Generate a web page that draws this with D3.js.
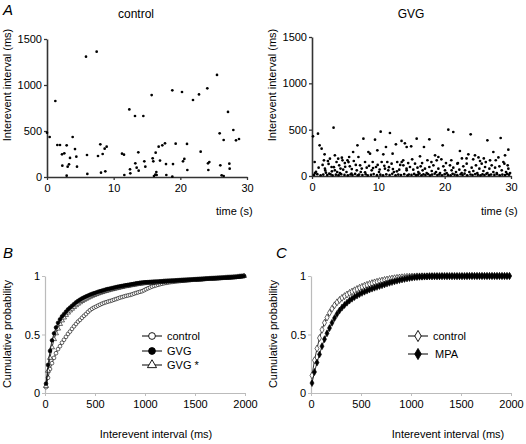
<!DOCTYPE html>
<html><head><meta charset="utf-8">
<script src="https://cdn.jsdelivr.net/npm/d3@7/dist/d3.min.js"></script>
<style>
body{margin:0;background:#fff}
text{font-family:"Liberation Sans",Arial,sans-serif;fill:#000}
</style>
</head><body>
<svg id="c" width="526" height="444"></svg>
<script>
// ---------- Panel A data (scatter: time s, interevent interval ms) ----------
const ctrlTime = [0,0.4,1.25,1.55,1.95,2.25,2.6,2.3,2.95,2.95,3.1,3.3,3.45,3.85,4.2,4.4,4.5,5.85,6.0,6.05,7.45,7.65,8.0,8.1,8.35,8.65,8.75,8.95,11.25,11.55,11.6,12.35,12.45,12.5,13.2,13.25,13.45,13.7,13.75,14.45,14.6,14.75,15.7,15.85,15.95,16.05,16.25,16.3,16.4,16.45,16.75,16.95,17.3,17.7,17.85,17.9,18.8,18.9,18.8,19.3,20.25,20.4,20.6,21.0,21.05,21.9,22.8,23.05,24.05,24.15,24.2,24.35,25.5,25.9,26.0,26.2,26.5,26.5,27.15,27.35,27.4,27.95,28.35,28.8];
const ctrlInterval = [482,435,826,348,348,246,257,123,344,14,112,138,207,435,304,221,112,1308,239,33,1362,228,355,47,250,308,62,330,254,243,22,735,83,40,663,149,101,268,69,663,170,112,891,203,170,11,25,264,54,22,330,178,344,366,141,22,942,141,4,362,924,170,196,359,76,837,898,275,964,149,76,163,1109,475,127,18,402,11,707,145,91,511,399,413];

const gvgTime = [0.15,0.4,0.45,0.9,1.15,1.45,1.9,1.8,1.95,2.1,2.4,2.6,2.7,2.95,3.25,3.45,3.45,3.7,3.8,3.95,4.1,4.2,4.5,4.6,4.7,4.95,5.2,5.35,5.6,5.7,5.95,6.2,6.3,6.75,6.85,7.0,7.25,7.35,7.75,8.0,8.25,8.5,8.75,9.0,9.15,9.5,9.65,9.85,10.1,10.35,10.5,10.75,11.0,11.15,11.35,11.5,11.75,12.0,12.15,12.35,12.65,12.85,13.15,13.5,13.75,14.0,14.25,14.27,14.95,15.53,15.78,16.28,16.88,17.69,18.55,18.8,19.05,19.7,20.55,21.3,22.3,23.57,23.92,24.57,25.33,26.44,26.84,27.34,28.44,29.1,29.6,29.0,29.5,28.85,
13.52,13.77,14.27,14.77,15.27,16.03,16.38,16.68,17.03,17.29,17.69,18.05,18.3,18.7,19.05,19.3,19.8,20.05,20.3,20.8,21.05,21.3,21.71,21.91,22.21,22.56,22.81,23.07,23.32,23.72,24.07,24.32,24.72,24.92,25.23,25.58,25.84,26.09,26.44,26.74,27.09,27.34,27.6,27.85,28.25,28.6,29.25,29.6,29.86,
0.3,0.8,1.3,1.7,2.3,2.8,3.1,3.6,4.0,4.4,4.9,5.4,5.8,6.1,6.5,6.9,7.1,7.6,8.1,8.4,8.9,9.3,9.8,10.3,10.7,11.2,11.7,12.1,12.6,13.0,13.4,13.9,14.4,14.6,15.0,15.4,15.7,16.0,16.2,16.5,16.8,17.1,17.5,17.8,18.1,18.5,18.9,19.2,19.6,20.0,20.5,20.9,21.2,21.5,21.9,22.4,22.7,23.0,23.4,23.9,24.2,24.6,25.0,25.4,25.7,26.0,26.3,26.7,27.0,27.5,27.9,28.3,28.7,29.1,29.4,29.7,
0.6,1.0,1.6,2.0,2.5,3.0,3.3,4.3,5.0,5.5,6.0,6.6,7.5,8.0,8.6,9.2,9.9,10.2,10.9,11.6,12.2,12.8,13.3,14.5,15.1,15.9,16.6,17.4,18.0,19.5,20.2,21.0,22.0,22.6,23.3,24.3,25.1,25.9,26.2,27.7,28.1];
const gvgInterval = [428,151,32,457,331,295,234,169,79,36,162,25,187,97,522,223,61,151,43,187,115,32,198,169,68,140,43,169,205,104,25,259,162,61,331,205,115,43,403,151,90,259,241,61,151,392,97,277,43,478,151,234,79,313,151,61,464,133,241,43,342,151,68,378,169,353,79,313,320,133,403,212,313,396,223,169,205,331,500,475,270,234,450,223,162,385,169,259,410,223,284,133,115,151,
151,115,61,97,68,43,104,61,79,32,97,54,115,43,79,32,104,61,32,115,61,90,43,133,68,32,104,61,133,43,90,54,115,32,79,133,54,97,32,79,115,43,90,32,104,61,43,79,32,
12,20,8,15,10,18,6,14,9,20,12,7,16,10,22,8,15,11,19,6,13,21,9,14,7,18,11,24,8,15,10,20,7,16,12,22,9,14,27,8,18,11,21,6,15,25,10,17,8,20,12,7,23,14,9,19,11,25,8,16,10,21,13,7,18,11,24,9,16,12,20,8,15,10,22,14,
45,90,120,60,130,50,95,80,100,150,75,120,80,40,110,85,120,70,110,95,75,50,120,140,180,90,140,170,150,180,140,170,140,190,190,180,200,190,150,170,200];

const scatterTicksY = [0,500,1000,1500];
const scatterTickLabelsY = ["0","500","1000","1500"];
const scatterTicksX = [0,10,20,30];

// ---------- Panel B data (cumulative probability, bins of 20 ms) ----------
const binsB = d3.range(10, 2000, 20);
const cdfCtrlB = [0.05,0.13,0.205,0.255,0.30,0.34,0.375,0.40,0.43,0.455,0.48,0.505,0.525,0.548,0.57,0.59,0.61,0.625,0.643,0.66,
0.675,0.693,0.708,0.72,0.73,0.738,0.747,0.755,0.763,0.77,0.776,0.781,0.786,0.791,0.797,0.803,0.809,0.815,0.82,0.825,
0.83,0.834,0.838,0.843,0.849,0.855,0.86,0.865,0.87,0.878,0.887,0.895,0.902,0.909,0.915,0.92,0.925,0.93,0.934,0.938,
0.941,0.944,0.947,0.949,0.951,0.953,0.955,0.957,0.959,0.961,0.962,0.964,0.965,0.967,0.968,0.969,0.971,0.972,0.973,0.975,
0.976,0.977,0.978,0.979,0.98,0.981,0.982,0.983,0.984,0.985,0.986,0.987,0.988,0.989,0.99,0.991,0.993,0.995,0.997,1.0];
const cdfGvgB = [0.08,0.24,0.36,0.45,0.51,0.56,0.6,0.63,0.655,0.675,0.695,0.715,0.73,0.745,0.76,0.775,0.787,0.798,0.808,0.817,
0.825,0.833,0.84,0.847,0.853,0.859,0.865,0.87,0.875,0.88,0.885,0.889,0.893,0.897,0.901,0.905,0.909,0.912,0.915,0.918,
0.921,0.924,0.927,0.93,0.933,0.936,0.939,0.942,0.944,0.946,0.947,0.948,0.949,0.95,0.951,0.952,0.953,0.954,0.955,0.956,
0.957,0.958,0.959,0.96,0.961,0.962,0.963,0.964,0.965,0.966,0.967,0.968,0.969,0.97,0.971,0.972,0.973,0.974,0.975,0.976,
0.977,0.978,0.979,0.98,0.981,0.982,0.983,0.984,0.985,0.986,0.987,0.988,0.989,0.99,0.991,0.992,0.994,0.996,0.998,1.0];
const cdfGvgStarB = [0.06,0.19,0.3,0.39,0.46,0.51,0.55,0.59,0.62,0.645,0.667,0.687,0.705,0.72,0.735,0.75,0.763,0.775,0.786,0.796,
0.805,0.814,0.822,0.83,0.837,0.844,0.85,0.856,0.862,0.867,0.872,0.877,0.882,0.886,0.89,0.894,0.898,0.902,0.906,0.91,
0.913,0.916,0.919,0.922,0.925,0.928,0.931,0.934,0.936,0.938,0.94,0.941,0.942,0.943,0.944,0.945,0.946,0.948,0.95,0.952,
0.953,0.954,0.955,0.956,0.957,0.958,0.959,0.96,0.961,0.962,0.963,0.964,0.965,0.966,0.967,0.968,0.969,0.97,0.971,0.972,
0.974,0.975,0.976,0.977,0.978,0.979,0.98,0.981,0.982,0.983,0.985,0.986,0.987,0.988,0.99,0.991,0.993,0.995,0.997,1.0];

// ---------- Panel C data (cumulative probability, bins of 25 ms) ----------
const binsC = d3.range(10, 2000, 25);
const cdfCtrlC = [0.15,0.28,0.38,0.47,0.54,0.60,0.645,0.685,0.72,0.75,0.775,0.795,0.813,0.828,0.842,0.855,0.867,0.878,0.889,0.899,
0.908,0.917,0.925,0.932,0.939,0.945,0.951,0.956,0.961,0.966,0.970,0.974,0.978,0.981,0.984,0.987,0.989,0.991,0.993,0.994,
0.995,0.996,0.997,0.997,0.998,0.998,0.998,0.999,0.999,0.999,0.999,0.999,0.999,0.999,0.999,0.999,0.999,0.999,0.999,0.999,
0.999,0.999,0.999,1.0,1.0,1.0,1.0,1.0,1.0,1.0,1.0,1.0,1.0,1.0,1.0,1.0,1.0,1.0,1.0,1.0];
const cdfMpaC = [0.085,0.18,0.26,0.33,0.40,0.46,0.51,0.555,0.6,0.64,0.675,0.705,0.73,0.752,0.772,0.79,0.806,0.82,0.833,0.845,
0.856,0.866,0.875,0.884,0.892,0.9,0.907,0.914,0.921,0.928,0.935,0.942,0.948,0.954,0.96,0.965,0.97,0.975,0.979,0.983,
0.986,0.989,0.991,0.993,0.994,0.995,0.996,0.997,0.997,0.998,0.998,0.998,0.999,0.999,0.999,0.999,0.999,0.999,0.999,0.999,
0.999,0.999,1.0,1.0,1.0,1.0,1.0,1.0,1.0,1.0,1.0,1.0,1.0,1.0,1.0,1.0,1.0,1.0,1.0,1.0];

const cdfTicksX = [0,500,1000,1500,2000];
const cdfTicksY = [0,0.5,1];
const cdfTickLabelsY = ["0","0.5","1"];

// ---------- drawing ----------
const svg = d3.select("#c");
const FS = 11;

function panelLetter(txt, x, y){
  svg.append("text").attr("x",x).attr("y",y).attr("font-size",15).attr("font-style","italic").text(txt);
}
function rotLabel(txt, x, y){
  svg.append("text").attr("transform",`translate(${x},${y}) rotate(-90)`).attr("text-anchor","middle")
    .attr("font-size",FS).text(txt);
}
function styleAxis(a, col, w){
  a.select(".domain").attr("stroke",col).attr("stroke-width",w);
  a.selectAll(".tick line").attr("stroke",col).attr("stroke-width",w*0.8);
  a.selectAll(".tick text").attr("font-size",FS).attr("font-family","Liberation Sans, Arial, sans-serif").attr("fill","#000");
}

function scatterPanel(o){
  const x = d3.scaleLinear().domain([0,30]).range([o.x0,o.x1]);
  const y = d3.scaleLinear().domain([0,1500]).range([o.y0,o.y1]);
  const g = svg.append("g");
  const ax = g.append("g").attr("transform",`translate(0,${o.y0})`)
    .call(d3.axisBottom(x).tickValues(scatterTicksX).tickFormat(d3.format("d")).tickSize(3).tickSizeOuter(0).tickPadding(4));
  const ay = g.append("g").attr("transform",`translate(${o.x0},0)`)
    .call(d3.axisLeft(y).tickValues(scatterTicksY).tickFormat((d,i)=>scatterTickLabelsY[i]).tickSize(3).tickSizeOuter(0).tickPadding(2));
  styleAxis(ax,"#333",1.6); styleAxis(ay,"#333",1.6);
  g.selectAll("circle.pt").data(o.t.map((t,i)=>[t,o.v[i]])).join("circle")
    .attr("cx",d=>x(d[0])).attr("cy",d=>y(d[1])).attr("r",1.35).attr("fill","#000");
  svg.append("text").attr("x",o.titleX).attr("y",18).attr("text-anchor","middle").attr("font-size",12).text(o.title);
  svg.append("text").attr("x",o.timeX).attr("y",215).attr("font-size",FS).text("time (s)");
  rotLabel("Interevent interval (ms)", o.ylabX, 85);
}

scatterPanel({x0:47,x1:247,y0:177,y1:39,t:ctrlTime,v:ctrlInterval,title:"control",titleX:136,timeX:216,ylabX:11});
scatterPanel({x0:312,x1:511,y0:176,y1:37,t:gvgTime,v:gvgInterval,title:"GVG",titleX:411,timeX:481,ylabX:276});

const symType = {circle:d3.symbolCircle, triangle:d3.symbolTriangle, diamond:d3.symbolDiamond};
const symSize = {circle:11, triangle:11, diamond:14};

function cdfPanel(o){
  const x = d3.scaleLinear().domain([0,2000]).range([o.x0,o.x1]);
  const y = d3.scaleLinear().domain([0,1]).range([393,276]);
  const g = svg.append("g");
  const ax = g.append("g").attr("transform","translate(0,393)")
    .call(d3.axisBottom(x).tickValues(cdfTicksX).tickFormat(d3.format("d")).tickSize(3).tickSizeOuter(0).tickPadding(4));
  const ay = g.append("g").attr("transform",`translate(${o.x0},0)`)
    .call(d3.axisLeft(y).tickValues(cdfTicksY).tickFormat((d,i)=>cdfTickLabelsY[i]).tickSize(3).tickSizeOuter(0).tickPadding(2));
  styleAxis(ax,"#bbb",1.2); styleAxis(ay,"#bbb",1.2);
  o.series.forEach(s=>{
    const pts = o.bins.map((b,i)=>[b,s.v[i]]);
    g.append("path").datum(pts).attr("fill","none").attr("stroke","#000").attr("stroke-width",0.8)
      .attr("d", d3.line().x(d=>x(d[0])).y(d=>y(d[1])));
    g.append("g").selectAll("path").data(pts).join("path")
      .attr("d", d3.symbol().type(symType[s.shape]).size(symSize[s.shape]))
      .attr("transform",d=>`translate(${x(d[0])},${y(d[1])})`)
      .attr("fill", s.filled ? "#000" : "#fff").attr("stroke","#000").attr("stroke-width",0.6);
  });
  o.legend.forEach(l=>{
    const s = o.series[l.idx];
    svg.append("line").attr("x1",o.lx).attr("x2",o.lx+20).attr("y1",l.y).attr("y2",l.y).attr("stroke","#000").attr("stroke-width",1);
    svg.append("path").attr("d", d3.symbol().type(symType[s.shape]).size(36))
      .attr("transform",`translate(${o.lx+10},${l.y})`).attr("fill", s.filled?"#000":"#fff").attr("stroke","#000").attr("stroke-width",0.9);
    svg.append("text").attr("x",o.lx+25+(l.dx||0)).attr("y",l.y+4).attr("font-size",FS).text(l.label);
  });
  svg.append("text").attr("x",o.xlabX).attr("y",438).attr("text-anchor","middle").attr("font-size",FS).text("Interevent interval (ms)");
  rotLabel("Cumulative probability", o.ylabX, 334);
}

cdfPanel({x0:45,x1:245,bins:binsB,
  series:[{v:cdfCtrlB,shape:"circle",filled:false},{v:cdfGvgStarB,shape:"triangle",filled:false},{v:cdfGvgB,shape:"circle",filled:true}],
  legend:[{idx:0,y:336,label:"control"},{idx:2,y:351,label:"GVG"},{idx:1,y:365,label:"GVG *"}],
  lx:142, xlabX:156, ylabX:11});
cdfPanel({x0:311,x1:511,bins:binsC,
  series:[{v:cdfCtrlC,shape:"diamond",filled:false},{v:cdfMpaC,shape:"diamond",filled:true}],
  legend:[{idx:0,y:336,label:"control"},{idx:1,y:354,label:"MPA",dx:2}],
  lx:408, xlabX:448, ylabX:277});

panelLetter("A",3,15);
panelLetter("B",3,258);
panelLetter("C",276,258);
</script>
</body></html>
